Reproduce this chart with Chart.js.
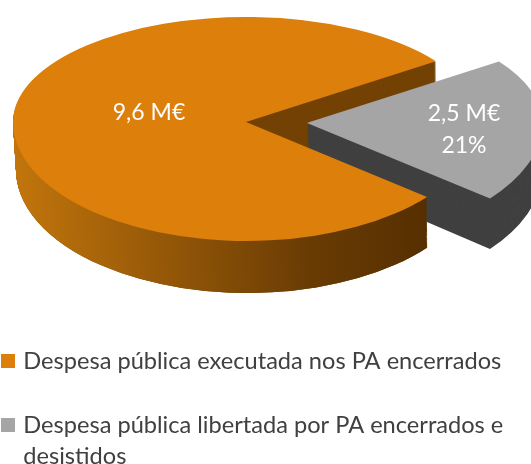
<!DOCTYPE html>
<html>
<head>
<meta charset="utf-8">
<script src="https://cdn.jsdelivr.net/npm/chart.js@4/dist/chart.umd.min.js"></script>
<style>
  html, body { margin: 0; padding: 0; background: #fff; }
  canvas { display: block; }
</style>
</head>
<body>
<canvas id="pieChart" width="531" height="464"></canvas>
<script>
const categories = ['Despesa pública executada nos PA encerrados', ['Despesa pública libertada por PA encerrados e', 'desistidos']];
const values = [9.6, 2.5];
const sliceLabels = [['9,6 M€'], ['2,5 M€', '21%']];
const topColors = ['#DC7F0B', '#A5A5A5'];
const explode = [0, 244];

// fake 3D: draws the library's own arc elements squashed and stacked
const apexX = 246, apexY = 122, depth = 48;
const labelPos = [[149, 113], [464, 114]];

function drawFace(ctx, el, fill, d) {
    const t = d / depth;
    const R = el.outerRadius;
    const sx = (233 - 1.5 * t) / R;
    const up = 105 / R;
    const low = (119 + 4 * t) / R;
    const shim = Object.create(el);
    shim.options = Object.assign({}, el.options, {backgroundColor: fill, borderWidth: 0});
    [[0, apexY + d, up], [apexY + d, 464, low]].forEach(([y0, y1, sy]) => {
        ctx.save();
        ctx.beginPath();
        ctx.rect(0, y0, 531, y1 - y0);
        ctx.clip();
        ctx.translate(apexX + 1.5 * t, apexY + d);
        ctx.scale(sx, sy);
        ctx.translate(-el.x, -el.y);
        shim.draw(ctx);
        ctx.restore();
    });
}

// legend square as a small canvas, so the text can sit closer to it
function swatch(color) {
    const c = document.createElement('canvas');
    c.width = 14;
    c.height = 14;
    const g = c.getContext('2d');
    g.fillStyle = color;
    g.fillRect(0, 0, 14, 14);
    return c;
}

const pie3d = {
    id: 'pie3d',
    afterLayout(chart) {
        chart.legend.left = -35.5;
        chart.legend.top = 309;
    },
    beforeDatasetsDraw(chart) {
        const ctx = chart.ctx;
        const [orange, grey] = chart.getDatasetMeta(0).data;
        const R = orange.outerRadius;

        // brown wall inside the gap
        for (let d = depth; d > 0; d--) drawFace(ctx, orange, '#734204', d);

        // grey slice
        for (let d = depth; d > 0; d--) drawFace(ctx, grey, '#404040', d);
        drawFace(ctx, grey, topColors[1], 0);

        // outer rim of the orange slice, only below the top ellipse
        const grad = ctx.createLinearGradient(orange.x - R, 0, orange.x + 0.8 * R, 0);
        grad.addColorStop(0, '#C2750C');
        grad.addColorStop(0.7, '#6A3C04');
        grad.addColorStop(1, '#552E00');
        ctx.save();
        ctx.beginPath();
        ctx.rect(0, 0, 531, 464);
        ctx.ellipse(apexX, apexY, 233, 105, 0, Math.PI, 2 * Math.PI);
        ctx.ellipse(apexX, apexY, 233, 119, 0, 0, Math.PI);
        ctx.clip('evenodd');
        for (let d = depth; d > 0; d--) drawFace(ctx, orange, grad, d);
        ctx.restore();

        drawFace(ctx, orange, topColors[0], 0);
        return false;
    },
    afterDraw(chart) {
        const ctx = chart.ctx;
        ctx.save();
        ctx.fillStyle = '#fff';
        ctx.font = '23px Lato';
        ctx.textAlign = 'center';
        ctx.textBaseline = 'middle';
        sliceLabels.forEach((lines, i) => {
            lines.forEach((line, j) => ctx.fillText(line, labelPos[i][0], labelPos[i][1] + j * 32));
        });
        ctx.restore();
    }
};

new Chart(document.getElementById('pieChart').getContext('2d'), {
    type: 'pie',
    plugins: [pie3d],
    data: {
        labels: categories,
        datasets: [{
            data: values,
            backgroundColor: topColors,
            borderWidth: 0,
            offset: explode
        }]
    },
    options: {
        responsive: false,
        animation: false,
        radius: 233,
        rotation: 129,
        plugins: {
            tooltip: {enabled: false},
            legend: {
                position: 'bottom',
                align: 'start',
                labels: {
                    boxHeight: 14,
                    usePointStyle: true,
                    pointStyleWidth: 6.5,
                    padding: 40.5,
                    color: '#404040',
                    font: {family: 'Lato', size: 23.6, lineHeight: 1.33},
                    generateLabels: chart => Chart.overrides.pie.plugins.legend.labels.generateLabels(chart)
                        .map((item, i) => Object.assign(item, {pointStyle: swatch(topColors[i])}))
                }
            }
        }
    }
});
</script>
</body>
</html>
